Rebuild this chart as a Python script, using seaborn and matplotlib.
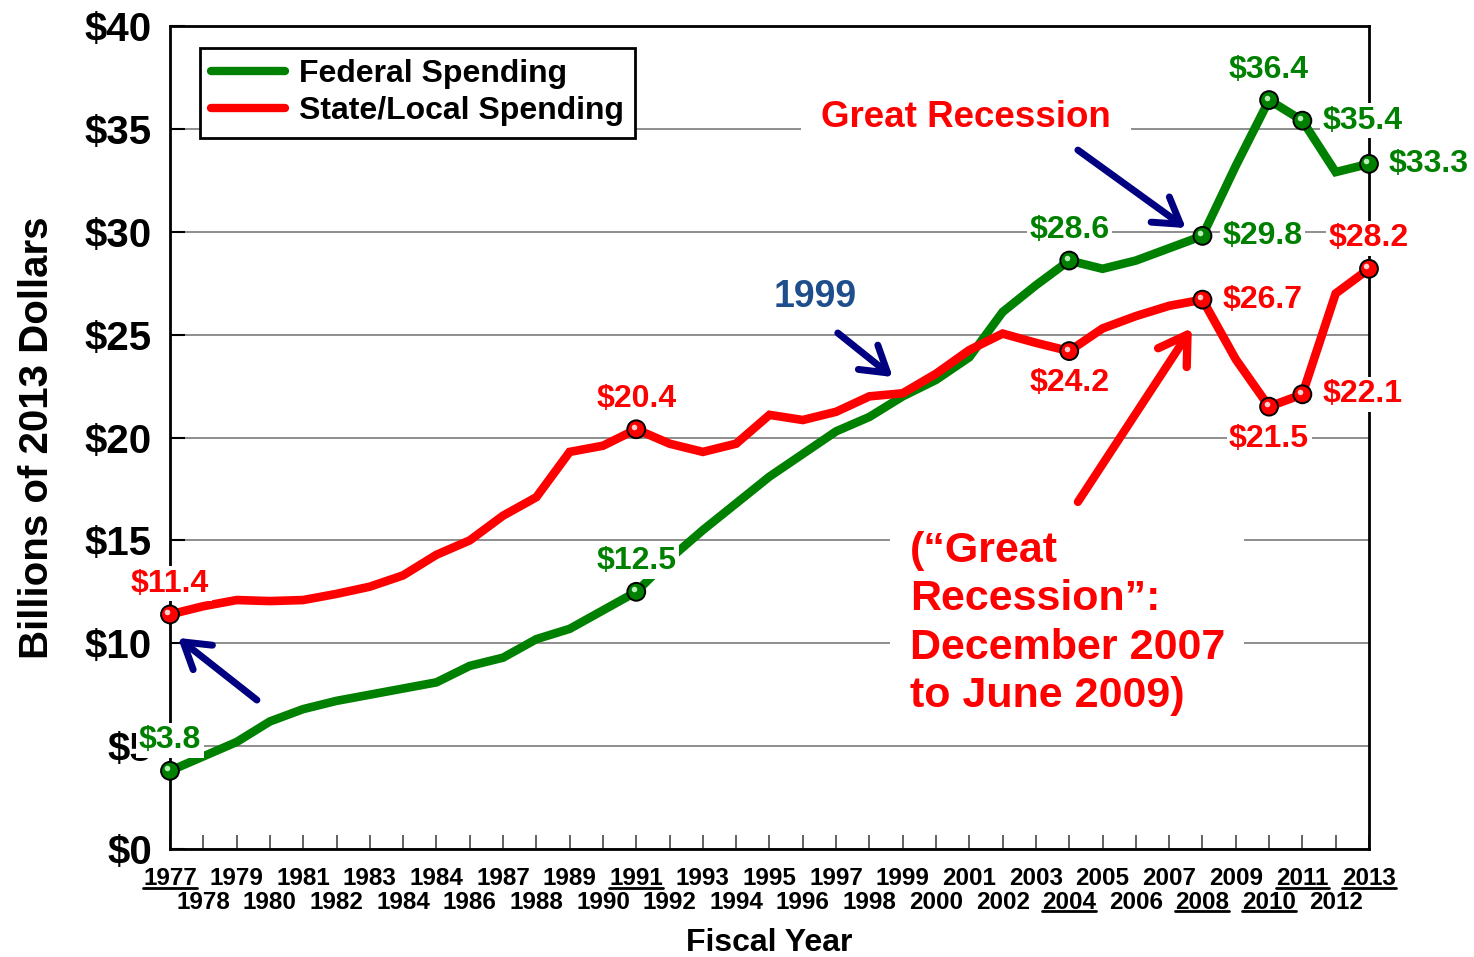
import numpy as np
import pandas as pd
import matplotlib
matplotlib.use("Agg")
import matplotlib.pyplot as plt
import matplotlib.transforms as mtransforms
from matplotlib.lines import Line2D
import seaborn as sns

# ---------------- data ----------------
years = [1977, 1978, 1979, 1980, 1981, 1982, 1983, 1984, 1985, 1986,
         1987, 1988, 1989, 1990, 1991, 1992, 1993, 1994, 1995, 1996,
         1997, 1998, 1999, 2000, 2001, 2002, 2003, 2004, 2005, 2006,
         2007, 2008, 2009, 2010, 2011, 2012, 2013]
tick_labels = ["1977", "1978", "1979", "1980", "1981", "1982", "1983", "1984",
               "1984", "1986", "1987", "1988", "1989", "1990", "1991", "1992",
               "1993", "1994", "1995", "1996", "1997", "1998", "1999", "2000",
               "2001", "2002", "2003", "2004", "2005", "2006", "2007", "2008",
               "2009", "2010", "2011", "2012", "2013"]
federal = [3.8, 4.5, 5.2, 6.2, 6.8, 7.2, 7.5, 7.8, 8.1, 8.9,
           9.3, 10.2, 10.7, 11.6, 12.5, 14.1, 15.5, 16.8, 18.1, 19.2,
           20.3, 21.0, 22.0, 22.8, 23.9, 26.1, 27.4, 28.6, 28.2, 28.6,
           29.2, 29.8, 33.2, 36.4, 35.4, 32.9, 33.3]
state_local = [11.4, 11.8, 12.1, 12.05, 12.1, 12.4, 12.75, 13.3, 14.3, 15.0,
               16.2, 17.1, 19.3, 19.6, 20.4, 19.7, 19.3, 19.7, 21.1, 20.85,
               21.25, 22.0, 22.15, 23.1, 24.25, 25.05, 24.6, 24.2, 25.3, 25.9,
               26.4, 26.7, 23.8, 21.5, 22.1, 27.0, 28.2]
series_names = ["Federal Spending", "State/Local Spending"]
underlined_years = [1977, 1991, 2004, 2008, 2010, 2011, 2013]
fed_marked = [1977, 1991, 2004, 2008, 2010, 2011, 2013]
fed_label_side = ["above", "above", "above", "right", "above", "right", "right"]
state_marked = [1977, 1991, 2004, 2008, 2010, 2011, 2013]
state_label_side = ["above", "above", "below", "right", "below", "right", "above"]
y_ticks = [0, 5, 10, 15, 20, 25, 30, 35, 40]
y_tick_labels = ["$0", "$5", "$10", "$15", "$20", "$25", "$30", "$35", "$40"]

GREEN = "#008000"
RED = "#FF0000"
NAVY = "#000080"
palette = {series_names[0]: GREEN, series_names[1]: RED}

df = pd.DataFrame({
    "Year": years * 2,
    "Billions": federal + state_local,
    "Series": [series_names[0]] * len(years) + [series_names[1]] * len(years),
})

# ---------------- style ----------------
sns.set_theme(style="white")
plt.rcParams["font.family"] = ["Liberation Sans", "DejaVu Sans"]
plt.rcParams["font.weight"] = "bold"
plt.rcParams["axes.labelweight"] = "bold"
plt.rcParams["text.color"] = "black"
plt.rcParams["axes.labelcolor"] = "black"
plt.rcParams["xtick.color"] = "black"
plt.rcParams["ytick.color"] = "black"

fig = plt.figure(figsize=(14.74, 9.57), dpi=100)
fig.patch.set_facecolor("white")
ax = fig.add_axes([0.11533, 0.11285, 0.81343, 0.85998])

sns.lineplot(data=df, x="Year", y="Billions", hue="Series", palette=palette,
             linewidth=6.2, ax=ax, legend=True, zorder=2.6)
for ln in ax.lines:
    ln.set_clip_on(False)
    ln.set_solid_joinstyle("miter")

# markers (spheres)
mk_rows = df[((df["Series"] == series_names[0]) & df["Year"].isin(fed_marked)) |
             ((df["Series"] == series_names[1]) & df["Year"].isin(state_marked))]
sns.scatterplot(data=mk_rows, x="Year", y="Billions", hue="Series", palette=palette,
                s=165, edgecolor="black", linewidth=1.4, ax=ax, legend=False, zorder=4)
ax.collections[-1].set_clip_on(False)
hl = mtransforms.ScaledTranslation(-1.8 / 72, 1.8 / 72, fig.dpi_scale_trans)
for name, light in [(series_names[0], "#b8f0b8"), (series_names[1], "#ffd0d0")]:
    sub = mk_rows[mk_rows["Series"] == name]
    ax.plot(sub["Year"], sub["Billions"], "o", ms=4, color=light, mew=0,
            transform=ax.transData + hl, clip_on=False, zorder=4.5)

# axes limits / ticks
ax.set_xlim(years[0], years[-1])
ax.set_ylim(0, 40)
ax.set_yticks(y_ticks)
ax.set_yticklabels(y_tick_labels, fontsize=29, fontweight="bold")
ax.set_xticks(years[::2])
ax.set_xticklabels(tick_labels[::2], fontsize=17.5, fontweight="bold")
ax.set_xticks(years[1::2], minor=True)
ax.set_xticklabels(tick_labels[1::2], minor=True, fontsize=17.5, fontweight="bold")
ax.tick_params(axis="x", which="both", direction="in", length=10, width=1.3,
               color="#555555", labelcolor="black", bottom=True, top=False)
ax.tick_params(axis="x", which="major", pad=13)
ax.tick_params(axis="x", which="minor", pad=30)
ax.tick_params(axis="y", which="major", direction="in", length=11, width=1.5,
               color="black", labelcolor="black", left=True, right=False, pad=13)

ax.yaxis.grid(True, color="#7a7a7a", linewidth=1.2)
ax.xaxis.grid(False)
ax.set_axisbelow(True)
for sp in ax.spines.values():
    sp.set_visible(True)
    sp.set_color("black")
    sp.set_linewidth(2)

ax.set_ylabel("Billions of 2013 Dollars", fontsize=29, fontweight="bold", labelpad=21)
ax.set_xlabel("Fiscal Year", fontsize=23, fontweight="bold", labelpad=10)

# legend
handles, labels = ax.get_legend_handles_labels()
leg = ax.legend(handles[:2], labels[:2], loc="upper left",
                bbox_to_anchor=(0.025, 0.973), borderaxespad=0,
                prop={"size": 23, "weight": "bold"}, frameon=True, fancybox=False,
                edgecolor="black", framealpha=1, handlelength=2.3,
                handletextpad=0.45, labelspacing=0.22, borderpad=0.35)
leg.get_frame().set_linewidth(2)
for h in leg.get_lines():
    h.set_linewidth(6)
leg.set_zorder(6)

# value labels
offsets = {"above": (0, 22), "below": (0, -23), "right": (43, 0)}
lookup = {series_names[0]: dict(zip(years, federal)),
          series_names[1]: dict(zip(years, state_local))}
for name, yrs, sides, col in [(series_names[0], fed_marked, fed_label_side, GREEN),
                              (series_names[1], state_marked, state_label_side, RED)]:
    for yr, side in zip(yrs, sides):
        v = lookup[name][yr]
        ax.annotate(f"${v:.1f}", xy=(yr, v), xytext=offsets[side],
                    textcoords="offset points", ha="center", va="center",
                    fontsize=23, fontweight="bold", color=col, zorder=3.5,
                    annotation_clip=False,
                    bbox=dict(boxstyle="square,pad=0.08", fc="white", ec="none"))

# text annotations
ax.text(2000.9, 35.53, "Great Recession", color=RED, fontsize=26.5, fontweight="bold",
        ha="center", va="center", zorder=3.5,
        bbox=dict(boxstyle="square,pad=0.55", fc="white", ec="none"))
ax.text(1996.36, 26.83, "1999", color="#1F4E8C", fontsize=27, fontweight="bold",
        ha="center", va="center", zorder=3.5)
ax.text(1999.21, 10.96, "(\u201cGreat\nRecession\u201d:\nDecember 2007\nto June 2009)",
        color=RED, fontsize=31, fontweight="bold", ha="left", va="center",
        multialignment="left", linespacing=1.27, zorder=3.5,
        bbox=dict(boxstyle="square,pad=0.45", fc="white", ec="none"))

arrow_kw = dict(arrowstyle="->,head_length=0.45,head_width=0.28", color=NAVY, lw=5,
                mutation_scale=40, shrinkA=0, shrinkB=0)
ax.annotate("", xy=(1977.24, 10.26), xytext=(1979.61, 7.24),
            arrowprops=arrow_kw, zorder=5, annotation_clip=False)
ax.annotate("", xy=(1998.70, 22.94), xytext=(1997.05, 25.08),
            arrowprops=arrow_kw, zorder=5, annotation_clip=False)
ax.annotate("", xy=(2007.50, 30.18), xytext=(2004.26, 33.97),
            arrowprops=arrow_kw, zorder=5, annotation_clip=False)
ax.annotate("", xy=(2007.68, 25.32), xytext=(2004.26, 16.87),
            arrowprops=dict(arrowstyle="->,head_length=0.45,head_width=0.28", color=RED,
                            lw=6, mutation_scale=44, shrinkA=0, shrinkB=0),
            zorder=5, annotation_clip=False)

# underline selected year labels
fig.canvas.draw()
renderer = fig.canvas.get_renderer()
W, H = fig.bbox.width, fig.bbox.height
all_labels = ax.get_xticklabels(minor=False) + ax.get_xticklabels(minor=True)
for lab in all_labels:
    pos = lab.get_position()[0]
    if int(round(pos)) in underlined_years:
        bb = lab.get_window_extent(renderer)
        yline = bb.y0 + 2.5
        fig.add_artist(Line2D([bb.x0 / W, bb.x1 / W], [yline / H, yline / H],
                              color="black", lw=2))

fig.savefig("out.png", dpi=100, facecolor="white")
